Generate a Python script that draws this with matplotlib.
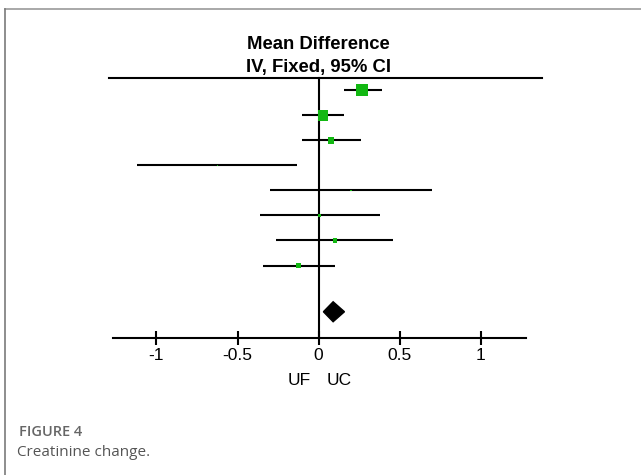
import matplotlib.pyplot as plt
import numpy as np

# study estimates (mean difference, 95% CI)
md = [0.27, 0.03, 0.075, -0.625, 0.20, 0.005, 0.10, -0.125]
ci_lo = [0.16, -0.10, -0.10, -1.12, -0.30, -0.36, -0.26, -0.34]
ci_hi = [0.39, 0.16, 0.26, -0.13, 0.70, 0.38, 0.46, 0.10]
weight = [43.0, 29.9, 10.8, 0.6, 0.6, 2.7, 4.8, 7.5]

# pooled (fixed effect)
pooled = 0.09
pooled_lo = 0.03
pooled_hi = 0.16

ticks = [-1, -0.5, 0, 0.5, 1]
tick_labels = ["-1", "-0.5", "0", "0.5", "1"]

W, H = 641, 475
fig = plt.figure(figsize=(W / 100, H / 100), dpi=100)

# grey frame of the figure panel (top + left)
frame = fig.add_axes([0, 0, 1, 1])
frame.set_xlim(0, W)
frame.set_ylim(H, 0)
frame.axis("off")
frame.plot([4.5, W], [9, 9], color="#9a9a9a", lw=1.2)
frame.plot([4.5, 4.5], [9, H], color="#7a7a7a", lw=1.2)

# forest plot axes, bottom spine is the scale
ax = fig.add_axes([112.7 / W, (H - 338) / H, (526 - 112.7) / W, (338 - 78) / H])
ax.set_xlim(-1.27, 1.28)
ax.set_ylim(10.9, 0.5)
for s in ["top", "left", "right"]:
    ax.spines[s].set_visible(False)
ax.spines["bottom"].set_linewidth(1.5)
ax.set_yticks([])
ax.set_xticks(ticks)
ax.set_xticklabels(tick_labels, fontsize=12.5, family="Liberation Sans")
ax.tick_params(axis="x", direction="inout", length=10, width=1.5, pad=2.5)
ax.patch.set_alpha(0)

rows = np.arange(1, len(md) + 1)
ax.hlines(rows, ci_lo, ci_hi, color="black", lw=1.5)
side = np.sqrt(np.array(weight) / max(weight)) * 12 * 0.72
ax.scatter(md, rows, s=side ** 2, marker="s", color="#12b812", zorder=3, linewidths=0)

# pooled diamond
yd = 9.85
ax.fill([pooled_lo, pooled, pooled_hi, pooled], [yd, yd - 0.4, yd, yd + 0.4],
        color="black", zorder=3)

# line of no effect and top rule
ax.plot([0, 0], [0.5, 10.9], color="black", lw=1.5, clip_on=False)
ax.plot([-1.29, 1.38], [0.5, 0.5], color="black", lw=1.5, clip_on=False)

ax.text(0, -0.85, "Mean Difference", ha="center", va="center",
        fontsize=13.3, fontweight="bold", family="Liberation Sans")
ax.text(0, 0.08, "IV, Fixed, 95% CI", ha="center", va="center",
        fontsize=13.3, fontweight="bold", family="Liberation Sans")

ax.text(-0.045, 12.6, "UF", ha="right", va="center", fontsize=12.5, family="Liberation Sans")
ax.text(0.048, 12.6, "UC", ha="left", va="center", fontsize=12.5, family="Liberation Sans")

fig.text(19 / W, 1 - 432 / H, "FIGURE 4", ha="left", va="center",
         fontsize=10.5, fontweight="semibold", color="#666666", family="Open Sans")
fig.text(17 / W, 1 - 453 / H, "Creatinine change.", ha="left", va="center",
         fontsize=11, color="#555555", family="Open Sans")

fig.savefig("out.png", dpi=100)
